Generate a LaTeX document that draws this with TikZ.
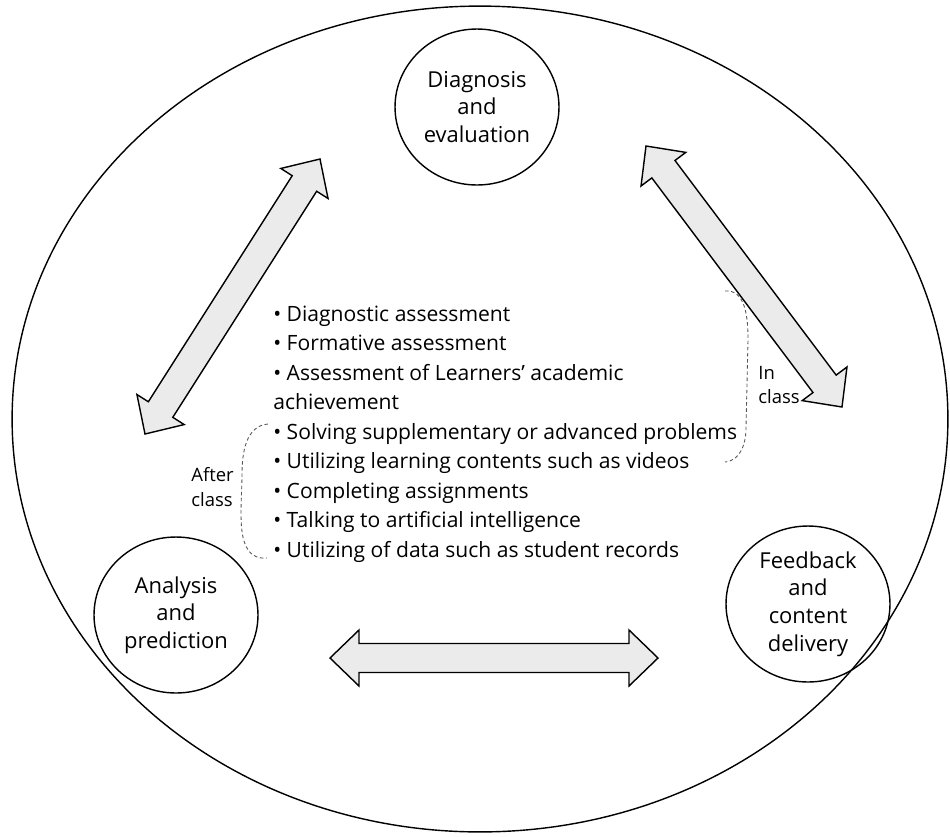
\documentclass[tikz,border=0pt]{standalone}
\usepackage{fontspec}
\setmainfont{Open Sans}
\usepackage{xcolor}
\usepackage{tikz}
\usetikzlibrary{calc,shapes.geometric}
\definecolor{arrowGray}{HTML}{EBEBEB}
\definecolor{dashGray}{HTML}{555555}
\tikzset{
  lab/.style={text=black, font=\fontsize{12pt}{16.8pt}\selectfont},
  smallLab/.style={text=black, font=\fontsize{10.5pt}{14pt}\selectfont, align=left},
  stageCircle/.style={ellipse, draw=black, line width=0.8pt, inner sep=0pt,
    minimum width=3.28cm, minimum height=3.12cm, align=center,
    font=\fontsize{12.5pt}{15.7pt}\selectfont},
  blockArrow/.style={draw=black, fill=arrowGray, line width=0.8pt, line join=miter},
  bracket/.style={draw=dashGray, line width=0.5pt, dash pattern=on 2pt off 1.5pt}
}
% double block arrow between two coordinates
\newcommand{\dblArrow}[2]{%
  \draw[blockArrow] let \p1=($(#2)-(#1)$), \n1={atan2(\y1,\x1)}, \n2={veclen(\x1,\y1)} in
    {[shift={(#1)}, rotate=\n1]
    (0pt,0pt) -- (0.58cm,0.56cm) -- (0.58cm,0.29cm) -- ({\n2-0.58cm},0.29cm)
    -- ({\n2-0.58cm},0.56cm) -- (\n2,0pt) -- ({\n2-0.58cm},-0.56cm)
    -- ({\n2-0.58cm},-0.29cm) -- (0.58cm,-0.29cm) -- (0.58cm,-0.56cm) -- cycle};
}

\begin{document}
\begin{tikzpicture}[x=0.02cm, y=-0.02cm]
  \useasboundingbox (0,0) rectangle (950,836);

  % outer cycle
  \draw[line width=0.8pt] (480,419) ellipse [x radius=9.36cm, y radius=8.26cm];

  % stages
  \node[stageCircle] (diag) at (477,107) {Diagnosis\\and\\evaluation};
  \node[stageCircle] (analysis) at (176,615) {Analysis\\and\\prediction};
  \node[stageCircle] (feedback) at (808,604) {Feedback\\and\\content\\delivery};

  % arrow tips
  \coordinate (leftLow) at (145,434);
  \coordinate (leftHigh) at (320,159);
  \coordinate (rightHigh) at (646,146);
  \coordinate (rightLow) at (842,407);
  \coordinate (botLeft) at (330,658);
  \coordinate (botRight) at (658,658);

  \dblArrow{leftLow}{leftHigh}
  \dblArrow{rightHigh}{rightLow}
  \dblArrow{botLeft}{botRight}

  % activities
  \node[lab, anchor=west, align=left, inner sep=0pt] (items) at (273,434) {%
    • Diagnostic assessment\\
    • Formative assessment\\
    • Assessment of Learners’ academic\\
    achievement\\
    • Solving supplementary or advanced problems\\
    • Utilizing learning contents such as videos\\
    • Completing assignments\\
    • Talking to artificial intelligence\\
    • Utilizing of data such as student records};

  % in class / after class
  \draw[bracket] (725,291) to[out=5,in=90] (748,340) -- (746,428) to[out=-90,in=5] (725,462);
  \node[smallLab, anchor=west, inner sep=0pt] (inClass) at (758,385) {In\\class};
  \draw[bracket] (268,424) to[out=185,in=90] (242,475) to[out=-90,in=185] (267,558);
  \node[smallLab, anchor=west, inner sep=0pt] (afterClass) at (191,487) {After\\class};
\end{tikzpicture}
\end{document}
